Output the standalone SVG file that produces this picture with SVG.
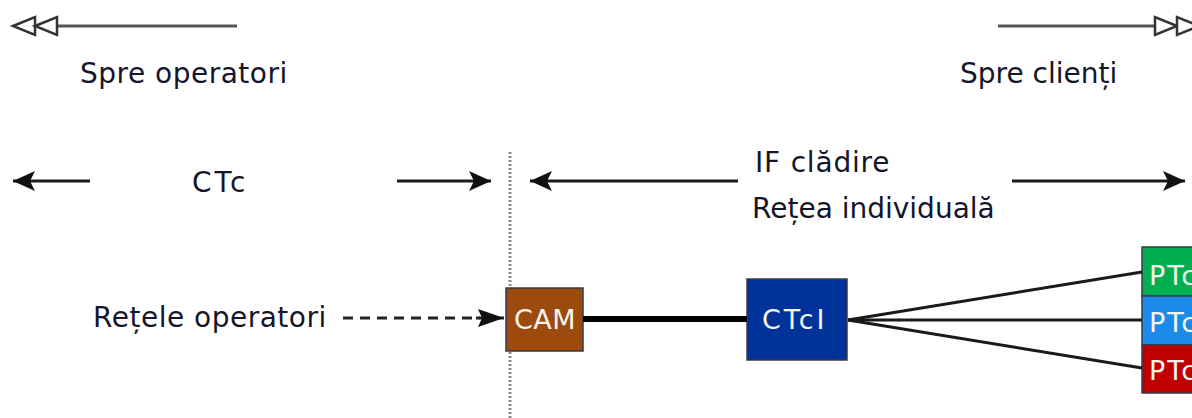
<svg xmlns="http://www.w3.org/2000/svg" width="1192" height="418" viewBox="0 0 1192 418">
  <style>
    .lbl { font-family: "DejaVu Sans", Verdana, sans-serif; font-size: 28px; fill: #15152a; }
    .box-txt { font-family: "DejaVu Sans", Verdana, sans-serif; font-size: 27px; fill: #f7f4ea; }
    .line { stroke: #1a1a1a; stroke-width: 3; fill: none; }
    .open-head { fill: #ffffff; stroke: #333333; stroke-width: 2.5; stroke-linejoin: miter; }
    .box { stroke: #3a3a48; stroke-width: 1.5; }
  </style>
  <defs>
    <marker id="solid" markerUnits="userSpaceOnUse" markerWidth="24" markerHeight="20" refX="22" refY="10" orient="auto">
      <path d="M0,0 L22,10 L0,20 L5,10 Z" fill="#111111"/>
    </marker>
    <marker id="solid-sm" markerUnits="userSpaceOnUse" markerWidth="28" markerHeight="20" refX="26" refY="10" orient="auto">
      <path d="M0,1 L26,10 L0,19 L4,10 Z" fill="#111111"/>
    </marker>
  </defs>

  <rect width="1192" height="418" fill="#ffffff"/>

  <!-- direction indicators at the top -->
  <g id="dir-operators">
    <line x1="57" y1="26" x2="237" y2="26" stroke="#555555" stroke-width="3"/>
    <polygon class="open-head" points="13,26 35,17 35,35"/>
    <polygon class="open-head" points="35,26 57,17 57,35"/>
    <text class="lbl" x="80" y="83" letter-spacing="0.5">Spre operatori</text>
  </g>
  <g id="dir-clients">
    <line x1="998" y1="26" x2="1155" y2="26" stroke="#555555" stroke-width="3"/>
    <polygon class="open-head" points="1177,26 1155,17 1155,35"/>
    <polygon class="open-head" points="1199,26 1177,17 1177,35"/>
    <text class="lbl" x="960" y="83">Spre clienți</text>
  </g>

  <!-- boundary between the public network and the building -->
  <line id="boundary" x1="510" y1="152" x2="510" y2="418" stroke="#8a8a8a" stroke-width="3" stroke-dasharray="2 2"/>

  <!-- span labels -->
  <g id="span-ctc">
    <text class="lbl" x="192" y="192" letter-spacing="3">CTc</text>
  </g>
  <g id="span-if">
    <text class="lbl" x="755" y="172" letter-spacing="0.8">IF clădire</text>
    <text class="lbl" x="752" y="218">Rețea individuală</text>
  </g>
  <g id="operators">
    <text class="lbl" x="93" y="327" letter-spacing="0.5">Rețele operatori</text>
  </g>

  <!-- nodes -->
  <g id="cam">
    <rect class="box" x="506" y="288" width="77" height="63" fill="#9c4a0e"/>
    <text class="box-txt" x="545" y="329" text-anchor="middle" letter-spacing="0.5">CAM</text>
  </g>
  <g id="ctci">
    <rect class="box" x="747" y="279" width="100" height="81" fill="#003399"/>
    <text class="box-txt" x="762" y="329" font-size="28" letter-spacing="3">CTcI</text>
  </g>
  <g id="ptc-green">
    <rect class="box" x="1142" y="247" width="60" height="49" fill="#00b050"/>
    <text class="box-txt" x="1149" y="285" letter-spacing="2">PTc</text>
  </g>
  <g id="ptc-blue">
    <rect class="box" x="1142" y="296" width="60" height="49" fill="#1a8be8"/>
    <text class="box-txt" x="1149" y="332" letter-spacing="2">PTc</text>
  </g>
  <g id="ptc-red">
    <rect class="box" x="1142" y="345" width="60" height="48" fill="#c00000"/>
    <text class="box-txt" x="1149" y="380" letter-spacing="2">PTc</text>
  </g>

  <!-- connectors -->
  <g id="connectors">
    <line class="line" x1="90" y1="181" x2="13" y2="181" marker-end="url(#solid)"/>
    <line class="line" x1="397" y1="181" x2="491" y2="181" marker-end="url(#solid)"/>
    <line class="line" x1="738" y1="181" x2="530" y2="181" marker-end="url(#solid)"/>
    <line class="line" x1="1012" y1="181" x2="1185" y2="181" marker-end="url(#solid)"/>
    <line x1="343" y1="318" x2="480" y2="318" stroke="#222222" stroke-width="3" stroke-dasharray="10 7"/>
    <line x1="476" y1="318" x2="504" y2="318" stroke="#222222" stroke-width="3" marker-end="url(#solid-sm)"/>
    <line x1="583" y1="319" x2="747" y2="319" stroke="#000000" stroke-width="6"/>
    <line class="line" x1="848" y1="320" x2="1142" y2="272"/>
    <line class="line" x1="848" y1="320" x2="1142" y2="320"/>
    <line class="line" x1="848" y1="320" x2="1142" y2="368"/>
  </g>
</svg>
